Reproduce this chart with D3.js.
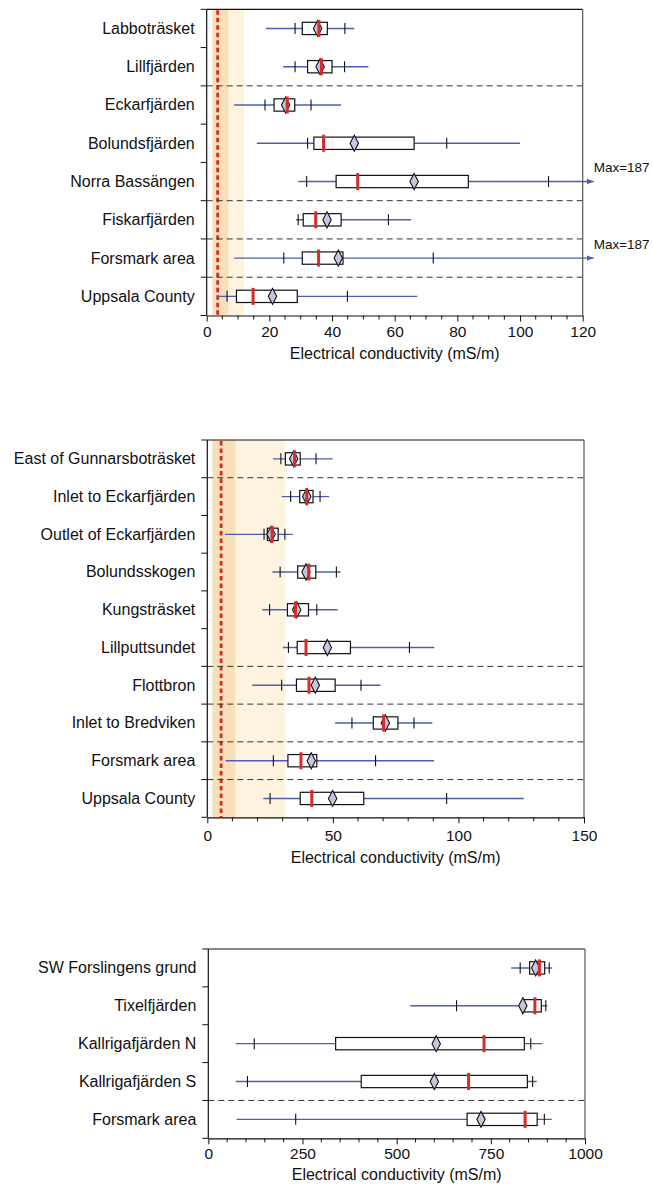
<!DOCTYPE html>
<html>
<head>
<meta charset="utf-8">
<script src="https://cdn.jsdelivr.net/npm/d3@7"></script>
<style>
  html, body { margin: 0; padding: 0; background: #fff; }
  svg { display: block; font-family: "Liberation Sans", Arial, Helvetica, sans-serif; }
</style>
</head>
<body>
<svg id="chart" width="653" height="1185"></svg>
<script>
// ---------- Panel 1 data ----------
const p1Categories = ["Labboträsket", "Lillfjärden", "Eckarfjärden", "Bolundsfjärden",
  "Norra Bassängen", "Fiskarfjärden", "Forsmark area", "Uppsala County"];
const p1Min    = [18.9, 24.4,  8.8,  16.0,  29.2, 28.5,  8.8,  3.7];
const p1P10    = [28.2, 28.2, 18.6,  32.2,  31.9, 29.2, 24.6,  6.5];
const p1Q1     = [30.5, 32.2, 21.5,  34.2,  41.3, 30.8, 30.5,  9.5];
const p1Median = [35.8, 36.6, 25.7,  37.3,  48.2, 34.8, 35.7, 14.8];
const p1Mean   = [35.4, 36.2, 25.2,  47.1,  66.2, 38.4, 42.0, 21.0];
const p1Q3     = [38.5, 40.0, 28.1,  66.2,  83.5, 42.9, 43.5, 28.9];
const p1P90    = [44.1, 44.0, 33.3,  76.6, 109.1, 58.0, 72.3, 44.9];
const p1Max    = [47.1, 51.6, 42.9, 100.0, 187.0, 65.2, 187.0, 67.2];
const p1Ticks  = [0, 20, 40, 60, 80, 100, 120];
const p1DashedAfter = [1, 4, 5, 6];
const p1Bands  = [[1.8, 7], [7, 12]];
const p1RefLine = 3.5;

// ---------- Panel 2 data ----------
const p2Categories = ["East of Gunnarsboträsket", "Inlet to Eckarfjärden", "Outlet of Eckarfjärden",
  "Bolundsskogen", "Kungsträsket", "Lillputtsundet", "Flottbron", "Inlet to Bredviken",
  "Forsmark area", "Uppsala County"];
const p2Min    = [26.2, 29.6,  7.0, 25.9, 21.9, 30.1, 17.9, 50.9,  7.3,  22.3];
const p2P10    = [29.3, 33.2, 22.6, 29.0, 24.8, 32.3, 29.6, 57.6, 26.3,  25.0];
const p2Q1     = [31.1, 36.8, 23.9, 36.0, 31.9, 35.8, 35.5, 66.1, 32.1,  37.0];
const p2Median = [34.8, 39.6, 25.8, 40.4, 35.1, 39.3, 40.5, 70.2, 37.3,  41.6];
const p2Mean   = [34.4, 39.6, 25.4, 39.3, 35.6, 47.8, 43.0, 70.9, 41.4,  49.9];
const p2Q3     = [37.0, 42.1, 28.2, 43.2, 40.3, 57.0, 50.9, 75.9, 43.6,  62.3];
const p2P90    = [43.3, 44.9, 30.9, 51.4, 43.6, 80.5, 61.2, 82.3, 67.0,  95.3];
const p2Max    = [49.9, 48.5, 34.0, 53.1, 51.9, 90.4, 68.9, 89.6, 90.3, 126.0];
const p2Ticks  = [0, 50, 100, 150];
const p2DashedAfter = [0, 5, 6, 7, 8];
const p2Bands  = [[2, 11.3], [11.3, 31]];
const p2RefLine = 5.5;

// ---------- Panel 3 data ----------
const p3Categories = ["SW Forslingens grund", "Tixelfjärden", "Kallrigafjärden N",
  "Kallrigafjärden S", "Forsmark area"];
const p3Min    = [804, 536,  73,  73,  75];
const p3P10    = [828, 659, 122, 104, 232];
const p3Q1     = [853, 836, 338, 406, 687];
const p3Median = [879, 867, 732, 691, 841];
const p3Mean   = [869, 835, 605, 600, 724];
const p3Q3     = [893, 884, 839, 847, 873];
const p3P90    = [905, 896, 856, 861, 892];
const p3Max    = [913, 900, 887, 872, 912];
const p3Ticks  = [0, 250, 500, 750, 1000];
const p3DashedAfter = [3];

const axisTitle = "Electrical conductivity (mS/m)";

// ---------- styles ----------
const C = {
  whisker: "#4f5fae",
  median: "#d42b2b",
  diamond: "#c6c6df",
  bandDark: "#f6dfb9",
  bandLight: "#fdf3de",
  refLine: "#d42b2b",
  dashed: "#333",
  frame: "#111"
};

const svg = d3.select("#chart");
const defs = svg.append("defs");
defs.append("marker")
  .attr("id", "arrow")
  .attr("viewBox", "0 0 10 10")
  .attr("refX", 10).attr("refY", 5)
  .attr("markerUnits", "userSpaceOnUse")
  .attr("markerWidth", 7).attr("markerHeight", 7)
  .attr("orient", "auto")
  .append("path").attr("d", "M0,1 L10,5 L0,9 Z").attr("fill", C.whisker);

function drawPanel(cfg) {
  const { left, right, top, bottom, domain, ticks, minorStep, cats,
          min, p10, q1, med, mean, q3, p90, max, dashedAfter, bands, refLine,
          tickLabelDy, titleDy } = cfg;
  const g = svg.append("g");
  const x = d3.scaleLinear().domain(domain).range([left, right]);
  const y = d3.scaleBand().domain(cats).range([top, bottom]).padding(0);
  const bw = y.bandwidth();
  const cy = d => y(d) + bw / 2;

  // bands
  if (bands) {
    g.selectAll(".band").data(bands).join("rect")
      .attr("x", d => x(d[0])).attr("width", d => x(d[1]) - x(d[0]))
      .attr("y", top).attr("height", bottom - top)
      .attr("fill", (d, i) => i === 0 ? C.bandDark : C.bandLight);
  }
  // reference dotted line
  if (refLine !== undefined) {
    g.append("line")
      .attr("x1", x(refLine)).attr("x2", x(refLine))
      .attr("y1", top + 1).attr("y2", bottom)
      .attr("stroke", C.refLine).attr("stroke-width", 2.8)
      .attr("stroke-dasharray", "4.5,3");
  }
  // dashed separators
  g.selectAll(".sep").data(dashedAfter).join("line")
    .attr("x1", left).attr("x2", right)
    .attr("y1", i => y(cats[i]) + bw).attr("y2", i => y(cats[i]) + bw)
    .attr("stroke", C.dashed).attr("stroke-width", 1)
    .attr("stroke-dasharray", "6,4");

  const idx = d3.range(cats.length);
  const xMax = domain[1];
  // whiskers
  idx.forEach(i => {
    const over = max[i] > xMax;
    const x2 = over ? right + 11 : x(max[i]);
    g.append("line")
      .attr("x1", x(min[i])).attr("x2", x2)
      .attr("y1", cy(cats[i])).attr("y2", cy(cats[i]))
      .attr("stroke", C.whisker).attr("stroke-width", 1.4)
      .attr("marker-end", over ? "url(#arrow)" : null);
    if (over) {
      g.append("text")
        .attr("x", right + 11).attr("y", cy(cats[i]) - 9.5)
        .attr("font-size", 13.5).attr("fill", "#111")
        .text("Max=" + max[i]);
    }
  });
  // percentile ticks
  idx.forEach(i => {
    [p10[i], p90[i]].forEach(v => {
      g.append("line")
        .attr("x1", x(v)).attr("x2", x(v))
        .attr("y1", cy(cats[i]) - 5.5).attr("y2", cy(cats[i]) + 5.5)
        .attr("stroke", "#111").attr("stroke-width", 1.1);
    });
  });
  // boxes
  const boxH = 12.3;
  g.selectAll(".box").data(idx).join("rect")
    .attr("x", i => x(q1[i])).attr("width", i => x(q3[i]) - x(q1[i]))
    .attr("y", i => cy(cats[i]) - boxH / 2).attr("height", boxH)
    .attr("fill", "#fff").attr("stroke", "#111").attr("stroke-width", 1.2);
  // mean diamonds
  g.selectAll(".mean").data(idx).join("path")
    .attr("d", i => {
      const mx = x(mean[i]), my = cy(cats[i]);
      return `M${mx},${my - 8} L${mx + 4.2},${my} L${mx},${my + 8} L${mx - 4.2},${my} Z`;
    })
    .attr("fill", C.diamond).attr("stroke", "#111").attr("stroke-width", 1.1);
  // medians
  g.selectAll(".med").data(idx).join("line")
    .attr("x1", i => x(med[i])).attr("x2", i => x(med[i]))
    .attr("y1", i => cy(cats[i]) - 8.5).attr("y2", i => cy(cats[i]) + 8.5)
    .attr("stroke", C.median).attr("stroke-width", 3);

  // frame
  g.append("line").attr("x1", left).attr("x2", right).attr("y1", top).attr("y2", top)
    .attr("stroke", C.frame).attr("stroke-width", 1.2);
  g.append("line").attr("x1", right).attr("x2", right).attr("y1", top).attr("y2", bottom)
    .attr("stroke", "#555").attr("stroke-width", 1.2);

  // left axis: ticks at band boundaries, labels centered
  const yBound = d3.range(cats.length + 1).map(k => top + k * bw);
  g.append("line").attr("x1", left).attr("x2", left).attr("y1", top).attr("y2", bottom)
    .attr("stroke", C.frame).attr("stroke-width", 1.2);
  g.selectAll(".ytick").data(yBound).join("line")
    .attr("x1", left - 6).attr("x2", left).attr("y1", d => d).attr("y2", d => d)
    .attr("stroke", C.frame).attr("stroke-width", 1);
  g.selectAll(".ylab").data(cats).join("text")
    .attr("x", left - 12).attr("y", d => cy(d)).attr("dy", "0.34em")
    .attr("text-anchor", "end").attr("font-size", 16).attr("fill", "#111")
    .text(d => d);

  // bottom axis
  const xAxis = d3.axisBottom(x).tickValues(ticks).tickSize(6).tickSizeOuter(0)
    .tickFormat(d3.format("d"));
  const ax = g.append("g").attr("transform", `translate(0,${bottom})`).call(xAxis);
  ax.select(".domain").attr("stroke", C.frame).attr("stroke-width", 1.2);
  ax.selectAll(".tick line").attr("stroke", C.frame);
  ax.selectAll(".tick text").attr("font-size", 15.5).attr("fill", "#111")
    .attr("font-family", null).attr("dy", null).attr("y", tickLabelDy);
  const minor = d3.range(domain[0], domain[1] + 1e-9, minorStep).filter(v => !ticks.includes(v));
  g.selectAll(".minor").data(minor).join("line")
    .attr("x1", d => x(d)).attr("x2", d => x(d))
    .attr("y1", bottom).attr("y2", bottom + 4)
    .attr("stroke", C.frame).attr("stroke-width", 1);
  g.append("text")
    .attr("x", (left + right) / 2).attr("y", bottom + titleDy)
    .attr("text-anchor", "middle").attr("font-size", 16).attr("fill", "#111")
    .text(axisTitle);
}

drawPanel({
  left: 206.7, right: 582.7, top: 9.3, bottom: 315.5, domain: [0, 120],
  ticks: p1Ticks, minorStep: 5, cats: p1Categories,
  min: p1Min, p10: p1P10, q1: p1Q1, med: p1Median, mean: p1Mean, q3: p1Q3, p90: p1P90, max: p1Max,
  dashedAfter: p1DashedAfter, bands: p1Bands, refLine: p1RefLine,
  tickLabelDy: 21.5, titleDy: 43.5
});
drawPanel({
  left: 207.3, right: 584, top: 440, bottom: 817.3, domain: [0, 150],
  ticks: p2Ticks, minorStep: 10, cats: p2Categories,
  min: p2Min, p10: p2P10, q1: p2Q1, med: p2Median, mean: p2Mean, q3: p2Q3, p90: p2P90, max: p2Max,
  dashedAfter: p2DashedAfter, bands: p2Bands, refLine: p2RefLine,
  tickLabelDy: 23.5, titleDy: 46
});
drawPanel({
  left: 208.3, right: 585, top: 949, bottom: 1138.3, domain: [0, 1000],
  ticks: p3Ticks, minorStep: 50, cats: p3Categories,
  min: p3Min, p10: p3P10, q1: p3Q1, med: p3Median, mean: p3Mean, q3: p3Q3, p90: p3P90, max: p3Max,
  dashedAfter: p3DashedAfter,
  tickLabelDy: 20.5, titleDy: 42
});
</script>
</body>
</html>
